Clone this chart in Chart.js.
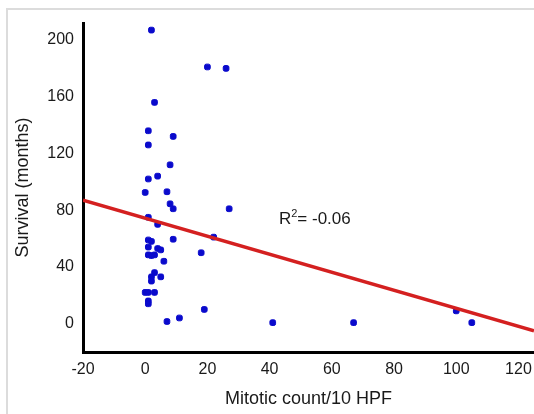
<!DOCTYPE html>
<html>
<head>
<meta charset="utf-8">
<script src="https://cdn.jsdelivr.net/npm/chart.js@4.4.0/dist/chart.umd.min.js"></script>
<style>
  html, body { margin: 0; padding: 0; background: #fff; }
  #wrap { position: relative; width: 534px; height: 414px; overflow: hidden; }
  #frame { position: absolute; left: 6px; top: 8px; right: -10px; bottom: -10px;
           border-left: 2px solid #dcdcdc; border-top: 2px solid #dcdcdc; }
  canvas { position: absolute; left: 0; top: 0; }
</style>
</head>
<body>
<div id="wrap">
  <div id="frame"></div>
  <canvas id="chart" width="534" height="414"></canvas>
</div>
<script>
// --- Data ---
const mitoticCount = [2, 20, 26, 3, 1, 9, 1, 8, 4, 1, 0, 7, 8, 9, 27, 1, 4, 22, 1, 2, 9,
                      1, 4, 5, 18, 1, 2, 3, 6, 3, 2, 5, 2, 0, 1, 3, 1, 1, 19, 11, 7,
                      41, 67, 100, 105];
const survivalMonths = [207, 181, 180, 156, 136, 132, 126, 112, 104, 102, 92.5, 93, 84.5, 81, 81, 75, 70, 61, 59, 58, 59.5,
                        54, 53, 52, 50, 48.5, 48, 48.5, 44, 36, 33, 33, 30, 22, 22, 22, 16, 14, 10, 4, 1.5,
                        0.7, 0.7, 9, 0.7];

// regression line end points
const fitX = [-20, 125];
const fitY = [87, -5];

const xTicks = [-20, 0, 20, 40, 60, 80, 100, 120];
const yTicks = [0, 40, 80, 120, 160, 200];
const rSquaredText = '= -0.06';

const FONT = "'Liberation Sans', Arial, sans-serif";

// Draws the R^2 note inside the plot
const rSquaredLabel = {
    id: 'rSquaredLabel',
    afterDatasetsDraw(chart) {
        const { ctx, scales } = chart;
        const x = scales.x.getPixelForValue(43);
        const y = scales.y.getPixelForValue(70.6);
        ctx.save();
        ctx.fillStyle = '#1a1a1a';
        ctx.textBaseline = 'alphabetic';
        ctx.textAlign = 'left';
        ctx.font = '17px ' + FONT;
        ctx.fillText('R', x, y);
        let w = ctx.measureText('R').width;
        ctx.font = '11px ' + FONT;
        ctx.fillText('2', x + w, y - 7);
        w += ctx.measureText('2').width;
        ctx.font = '17px ' + FONT;
        ctx.fillText(rSquaredText, x + w, y);
        ctx.restore();
    }
};

const points = mitoticCount.map((x, i) => ({ x: x, y: survivalMonths[i] }));
const fitLine = fitX.map((x, i) => ({ x: x, y: fitY[i] }));

new Chart(document.getElementById('chart'), {
    type: 'scatter',
    data: {
        datasets: [
            {
                type: 'line',
                data: fitLine,
                borderColor: '#d42020',
                borderWidth: 3.5,
                pointRadius: 0,
                fill: false,
                order: 0
            },
            {
                data: points,
                backgroundColor: '#0a0acc',
                borderColor: '#0a0acc',
                borderWidth: 1,
                pointStyle: 'rectRounded',
                pointRadius: 3.3,
                order: 1
            }
        ]
    },
    options: {
        responsive: false,
        animation: false,
        layout: { autoPadding: false, padding: { top: 23, left: 0, right: 0, bottom: 0 } },
        plugins: {
            legend: { display: false },
            tooltip: { enabled: false }
        },
        scales: {
            x: {
                type: 'linear',
                min: -20,
                max: 125,
                afterBuildTicks: s => { s.ticks = xTicks.map(v => ({ value: v })); },
                afterFit: s => { s.height = 62; s.paddingLeft = 0; s.paddingRight = 0; },
                grid: { display: false, drawTicks: false },
                border: { color: '#000', width: 3 },
                ticks: { padding: 8, color: '#1a1a1a', font: { size: 16, family: FONT } },
                title: {
                    display: true,
                    text: 'Mitotic count/10 HPF',
                    color: '#1a1a1a',
                    font: { size: 18, family: FONT },
                    padding: { top: 0, bottom: 4 }
                }
            },
            y: {
                type: 'linear',
                min: -20,
                max: 212,
                afterBuildTicks: s => { s.ticks = yTicks.map(v => ({ value: v })); },
                afterFit: s => { s.width = 83; s.paddingTop = 0; s.paddingBottom = 0; },
                grid: { display: false, drawTicks: false },
                border: { color: '#000', width: 3 },
                ticks: { padding: 9, color: '#1a1a1a', font: { size: 16, family: FONT } },
                title: {
                    display: true,
                    text: 'Survival (months)',
                    color: '#1a1a1a',
                    font: { size: 18, family: FONT },
                    padding: { top: 12, bottom: 0 }
                }
            }
        }
    },
    plugins: [rSquaredLabel]
});
</script>
</body>
</html>
